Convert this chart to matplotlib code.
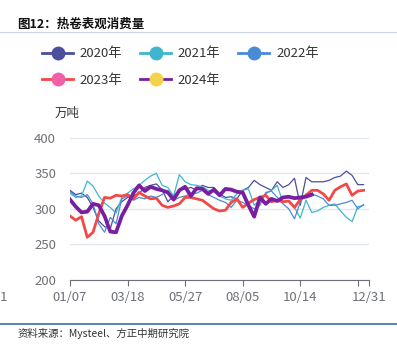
import numpy as np
import matplotlib
matplotlib.use("Agg")
import matplotlib.pyplot as plt
from matplotlib.lines import Line2D

plt.rcParams['font.family'] = ['Noto Sans CJK SC', 'DejaVu Sans']

# weekly categories (01/07 ... 12/31)
n_weeks = 53
tick_idx = [0, 10, 20, 30, 40, 50, 52]
tick_labels = ['01/07', '03/18', '05/27', '08/05', '10/14', '', '12/31']

years = ['2020年', '2021年', '2022年', '2023年', '2024年']

v2020 = [326, 320, 322, 316, 302, 283, 275, 272, 300, 310, 316, 318, 322, 330, 333, 335,
         327, 310, 318, 326, 328, 330, 326, 333, 330, 330, 321, 316, 317, 314, 326, 330,
         340, 334, 330, 326, 338, 330, 334, 343, 305, 344, 338, 338, 338, 340, 344, 346,
         353, 347, 334, 334]
v2021 = [322, 316, 318, 339, 332, 318, 308, 302, 294, 316, 322, 328, 333, 340, 346, 350,
         333, 330, 318, 348, 338, 334, 333, 331, 326, 324, 318, 314, 312, 321, 326, 328,
         305, 312, 321, 326, 333, 309, 311, 302, 287, 312, 295, 297, 302, 305, 307, 297,
         288, 282, 303, 305]
v2022 = [324, 318, 316, 320, 307, 279, 267, 288, 279, 314, 318, 312, 316, 314, 318, 316,
         320, 326, 312, 316, 318, 321, 322, 326, 320, 316, 312, 309, 302, 312, 309, 305,
         300, 305, 323, 325, 316, 307, 300, 286, 309, 321, 321, 318, 314, 305, 305, 307,
         309, 312, 300, 306]
v2023 = [290, 284, 289, 260, 267, 293, 316, 315, 319, 318, 320, 314, 323, 318, 314, 315,
         305, 302, 304, 307, 316, 316, 314, 312, 306, 300, 297, 298, 309, 314, 302, 308,
         313, 316, 319, 310, 312, 310, 311, 302, 313, 319, 326, 326, 321, 312, 326, 331,
         335, 319, 325, 326]
v2024 = [313, 303, 295, 296, 307, 305, 290, 268, 267, 290, 305, 322, 333, 325, 331, 328,
         326, 323, 313, 326, 331, 318, 329, 328, 321, 327, 319, 328, 327, 324, 323, 305,
         289, 316, 307, 314, 311, 316, 317, 315, 316, 317, 320]

series = [v2020, v2021, v2022, v2023, v2024]
line_colors = ['#4b4f9e', '#3fb6cc', '#4a8bd6', '#f24848', '#7a1ea1']
dot_colors = ['#4b4f9e', '#3fb6cc', '#4a8bd6', '#f05fa8', '#f2d34a']
widths = [0.9, 0.9, 0.9, 2.0, 2.7]

fig = plt.figure(figsize=(3.97, 3.59), dpi=100)
ax = fig.add_axes([0.1763, 0.2201, 0.7540, 0.3964])

for vals, c, w in zip(series, line_colors, widths):
    ax.plot(np.arange(len(vals)), vals, color=c, lw=w, solid_joinstyle='round')

ax.set_xlim(0, n_weeks - 1)
ax.set_ylim(200, 400)
ax.set_yticks([200, 250, 300, 350, 400])
ax.set_xticks(tick_idx)
ax.set_xticklabels(tick_labels)
ax.grid(axis='y', color='#e0e6f1', lw=1)
ax.set_axisbelow(True)
for s in ['top', 'right', 'left']:
    ax.spines[s].set_visible(False)
ax.spines['bottom'].set_color('#6e7079')
ax.tick_params(axis='y', length=0, pad=10, labelsize=9.5, labelcolor='#6e7079')
ax.tick_params(axis='x', length=4, color='#6e7079', pad=4, labelsize=9.5, labelcolor='#6e7079')
ax.text(-0.05, 1.17, '万吨', transform=ax.transAxes, fontsize=9, color='#333333',
        ha='left', va='center')

handles = [Line2D([], [], color=lc, lw=2, marker='o', markersize=9,
                  markerfacecolor=dc, markeredgecolor=dc)
           for lc, dc in zip(line_colors, dot_colors)]
# legend fills column by column; reorder so rows read 2020-2022 / 2023-2024
order = [0, 3, 1, 4, 2]
fig.legend([handles[i] for i in order], [years[i] for i in order],
           loc='upper left', bbox_to_anchor=(0.090, 0.887), ncol=3,
           frameon=False, fontsize=9.5, handlelength=2.35, handletextpad=0.5,
           columnspacing=1.35, labelspacing=1.05, borderpad=0, labelcolor='#333333')

fig.text(0.043, 0.933, '图12：热卷表观消费量', fontsize=9, fontweight='bold',
         color='#111111', ha='left', va='center')
fig.add_artist(Line2D([0, 1], [0.911, 0.911], color='#c9d5e6', lw=0.8))
fig.add_artist(Line2D([0, 1], [0.097, 0.097], color='#3d6f9e', lw=1.2))
fig.text(0.043, 0.070, '资料来源：Mysteel、方正中期研究院', fontsize=7.5,
         color='#333333', ha='left', va='center', style='italic')
fig.text(0.0, 0.171, '1', fontsize=9.5, color='#6e7079', ha='left', va='center')

fig.savefig('out.png', dpi=100)
